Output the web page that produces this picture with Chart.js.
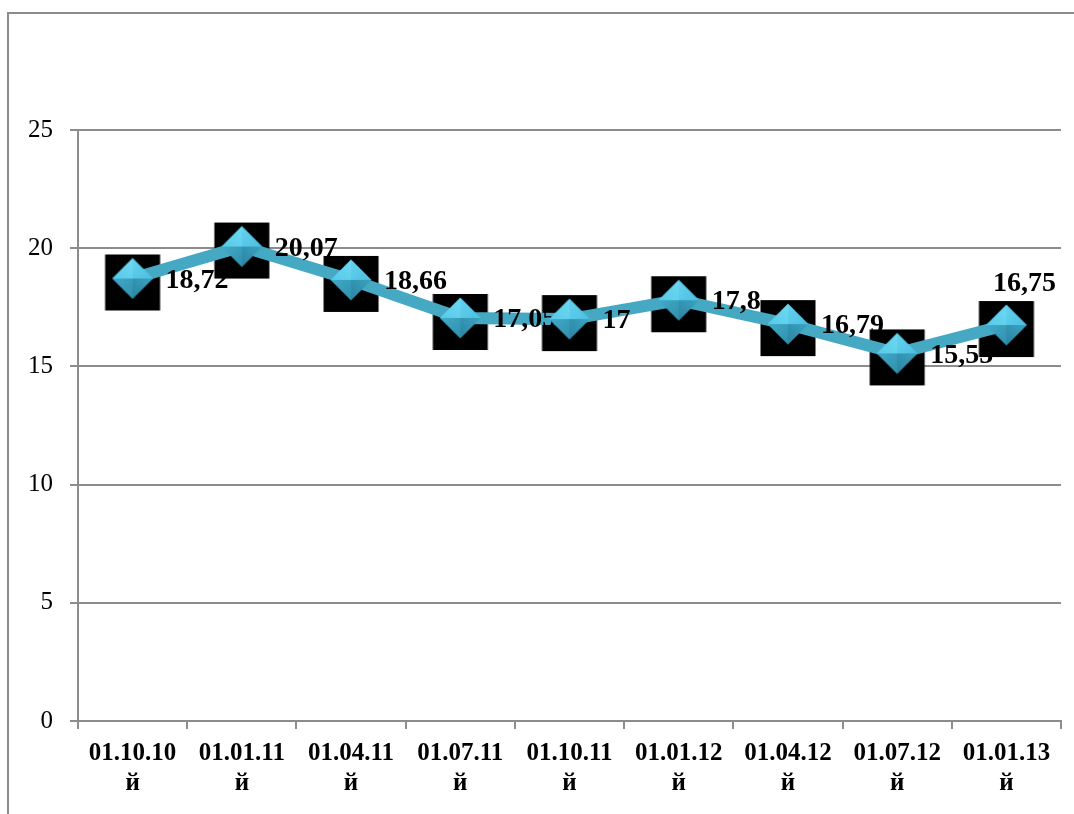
<!DOCTYPE html>
<html>
<head>
<meta charset="utf-8">
<script src="https://cdn.jsdelivr.net/npm/chart.js@4.4.1/dist/chart.umd.min.js"></script>
<style>
  html, body { margin: 0; padding: 0; background: #fff; overflow: hidden; }
  #wrap { position: relative; width: 1074px; height: 814px; }
  #frame { position: absolute; left: 7px; top: 12px; width: 1200px; height: 900px;
           border-top: 2px solid #8c8c8c; border-left: 2px solid #8c8c8c; }
  canvas { position: absolute; left: 0; top: 0; }
</style>
</head>
<body>
<div id="wrap">
  <div id="frame"></div>
  <canvas id="chart" width="1074" height="814"></canvas>
</div>
<script>
// Reporting dates (second line is the wrapped "й" suffix)
const categories = [
  ['01.10.10', 'й'], ['01.01.11', 'й'], ['01.04.11', 'й'],
  ['01.07.11', 'й'], ['01.10.11', 'й'], ['01.01.12', 'й'],
  ['01.04.12', 'й'], ['01.07.12', 'й'], ['01.01.13', 'й']
];
const values = [18.72, 20.07, 18.66, 17.05, 17, 17.8, 16.79, 15.55, 16.75];
const yTicks = [0, 5, 10, 15, 20, 25];

const SERIF = '"Liberation Serif", "Times New Roman", serif';
const GRID = '#8c8c8c';
const LINE = '#46A9C4';

// Black square backing, slightly lower than the point centre
function makeSquare() {
  const c = document.createElement('canvas');
  c.width = 70; c.height = 70;
  const g = c.getContext('2d');
  g.fillStyle = '#000';
  g.fillRect(35 - 27.5, 35 - 24, 55, 56);
  return c;
}

// Faceted cyan diamond drawn over the line
function makeDiamond() {
  const c = document.createElement('canvas');
  c.width = 46; c.height = 46;
  const g = c.getContext('2d');
  const cx = 23, cy = 23, r = 20.5;
  const T = [cx, cy - r], R = [cx + r, cy], B = [cx, cy + r], L = [cx - r, cy], C = [cx, cy];
  function facet(a, b, col1, col2) {
    const grad = g.createLinearGradient(a[0], a[1], b[0], b[1]);
    grad.addColorStop(0, col1);
    grad.addColorStop(1, col2);
    g.beginPath();
    g.moveTo(a[0], a[1]); g.lineTo(b[0], b[1]); g.lineTo(C[0], C[1]); g.closePath();
    g.fillStyle = grad; g.fill();
  }
  facet(L, T, '#56c9e8', '#6fd9f4');
  facet(T, R, '#64d3f0', '#4cbedf');
  facet(R, B, '#3ba3c2', '#2c84a2');
  facet(B, L, '#3190ae', '#41abc9');
  return c;
}

// Value labels: drawn over the line, beneath the diamonds
const valueLabels = {
  id: 'valueLabels',
  afterDatasetDraw(chart, args) {
    if (args.index !== 1) return;
    const ctx = chart.ctx;
    const last = values.length - 1;
    ctx.save();
    ctx.font = 'bold 28px ' + SERIF;
    ctx.fillStyle = '#000';
    ctx.textBaseline = 'middle';
    args.meta.data.forEach((pt, i) => {
      const text = String(values[i]).replace('.', ',');
      if (i === last) {
        ctx.textAlign = 'center';
        ctx.fillText(text, pt.x + 18, pt.y - 41);
      } else {
        ctx.textAlign = 'left';
        ctx.fillText(text, pt.x + 33, pt.y + 2);
      }
    });
    ctx.restore();
  }
};

new Chart(document.getElementById('chart'), {
  type: 'line',
  data: {
    labels: categories,
    datasets: [
      { data: values, showLine: false, pointStyle: makeSquare(), pointRadius: 28, order: 3 },
      { data: values, borderColor: LINE, borderWidth: 12, pointRadius: 0, tension: 0, order: 2 },
      { data: values, showLine: false, pointStyle: makeDiamond(), pointRadius: 20, order: 1 }
    ]
  },
  options: {
    responsive: false,
    animation: false,
    events: [],
    layout: { autoPadding: false, padding: { top: 130, right: 13, bottom: 0, left: 0 } },
    plugins: { legend: { display: false }, tooltip: { enabled: false } },
    scales: {
      x: {
        offset: true,
        afterFit(s) { s.height = 93; s.paddingLeft = 0; s.paddingRight = 0; },
        grid: { offset: true, drawOnChartArea: false, drawTicks: true, tickLength: 8, color: GRID, lineWidth: 2 },
        border: { display: true, color: GRID, width: 2 },
        ticks: {
          color: '#000', padding: 10, maxRotation: 0, autoSkip: false,
          font: { family: SERIF, size: 25, weight: 'bold', lineHeight: 1.2 }
        }
      },
      y: {
        min: 0, max: 25,
        afterFit(s) { s.width = 78; },
        afterBuildTicks(s) { s.ticks = yTicks.map(v => ({ value: v })); },
        grid: { color: GRID, lineWidth: 2, drawTicks: true, tickLength: 8 },
        border: { display: true, color: GRID, width: 2 },
        ticks: { color: '#000', padding: 17, font: { family: SERIF, size: 25 } }
      }
    }
  },
  plugins: [valueLabels]
});
</script>
</body>
</html>
